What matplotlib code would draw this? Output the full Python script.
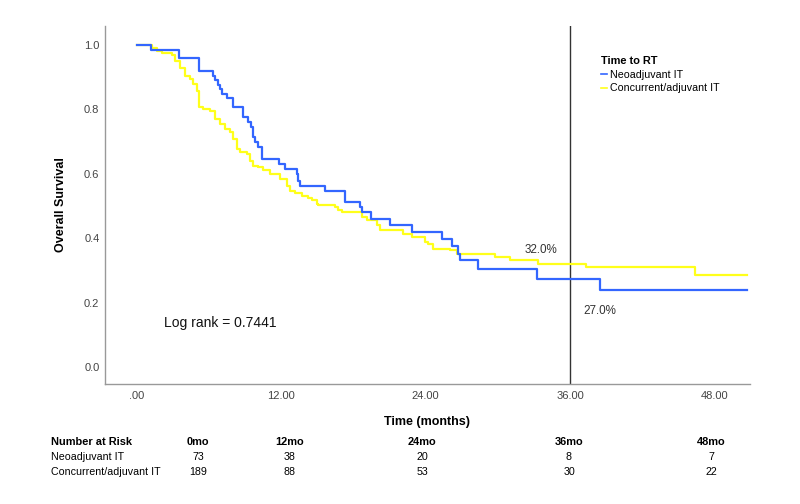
import matplotlib
matplotlib.use('Agg')
import matplotlib.pyplot as plt

plt.rcParams['font.family'] = ['Liberation Sans', 'DejaVu Sans']

# Curva Neoadjuvant IT (tiempo en meses, supervivencia)
neo_t = [0, 1.14, 3.49, 5.15, 6.34, 6.48, 6.76, 6.90, 7.04, 7.51, 8.00, 8.84, 9.20,
         9.45, 9.67, 9.81, 10.08, 10.37, 10.42, 11.78, 12.28, 13.28, 13.41, 13.55,
         15.63, 17.29, 18.54, 18.70, 19.43, 21.03, 22.83, 25.33, 26.16, 26.71, 26.85,
         28.37, 33.23, 38.49, 50.68]
neo_s = [1.0, 0.986, 0.959, 0.918, 0.904, 0.890, 0.877, 0.863, 0.849, 0.836, 0.808,
         0.775, 0.760, 0.744, 0.713, 0.698, 0.682, 0.667, 0.646, 0.631, 0.615, 0.600,
         0.579, 0.563, 0.547, 0.512, 0.496, 0.481, 0.460, 0.440, 0.419, 0.398, 0.377,
         0.352, 0.331, 0.305, 0.274, 0.238, 0.238]

# Curva Concurrent/adjuvant IT
con_t = [0, 1.22, 1.64, 2.05, 2.88, 3.16, 3.57, 3.99, 4.41, 4.68, 4.96, 5.15, 5.51,
         6.07, 6.48, 6.90, 7.32, 7.73, 8.00, 8.29, 8.56, 9.12, 9.39, 9.67, 10.08,
         10.50, 11.06, 11.89, 12.44, 12.72, 13.13, 13.69, 14.24, 14.52, 14.94, 15.07,
         16.46, 16.73, 17.02, 18.68, 19.09, 19.93, 20.20, 22.14, 22.83, 23.94, 24.21,
         24.63, 26.02, 26.58, 29.76, 31.00, 33.36, 37.32, 46.38, 50.68]
con_s = [1.0, 0.992, 0.981, 0.974, 0.969, 0.950, 0.930, 0.904, 0.894, 0.878, 0.858,
         0.806, 0.801, 0.796, 0.770, 0.754, 0.739, 0.729, 0.708, 0.677, 0.667, 0.662,
         0.641, 0.625, 0.620, 0.612, 0.600, 0.584, 0.563, 0.548, 0.540, 0.532, 0.525,
         0.517, 0.507, 0.502, 0.496, 0.486, 0.481, 0.465, 0.457, 0.440, 0.424, 0.414,
         0.403, 0.388, 0.383, 0.367, 0.362, 0.352, 0.341, 0.331, 0.321, 0.310, 0.285,
         0.285]

xticks = [0, 12, 24, 36, 48]
xtick_labels = ['.00', '12.00', '24.00', '36.00', '48.00']

# Tabla de pacientes en riesgo
risk_cols = ['0mo', '12mo', '24mo', '36mo', '48mo']
risk_neo = [73, 38, 20, 8, 7]
risk_con = [189, 88, 53, 30, 22]

fig = plt.figure(figsize=(8, 5.04), dpi=100)
ax = fig.add_axes([105 / 800, 1 - 384 / 504, 645 / 800, 358 / 504])

ax.step(neo_t, neo_s, where='post', color='#3366ff', lw=1.6, label='Neoadjuvant IT', zorder=3)
ax.step(con_t, con_s, where='post', color='#ffff1a', lw=1.6, label='Concurrent/adjuvant IT', zorder=2)

ax.axvline(36, color='#333333', lw=1.0, zorder=1)

ax.set_xlim(-2.66, 50.96)
ax.set_ylim(-0.053, 1.059)
ax.set_xticks(xticks)
ax.set_xticklabels(xtick_labels)
ax.set_yticks([0, 0.2, 0.4, 0.6, 0.8, 1.0])
ax.set_yticklabels(['0.0', '0.2', '0.4', '0.6', '0.8', '1.0'])
ax.tick_params(axis='x', length=0, pad=5, labelsize=8, labelcolor='#444444')
ax.tick_params(axis='y', length=0, pad=4, labelsize=8, labelcolor='#444444')

for side in ['top', 'right']:
    ax.spines[side].set_visible(False)
for side in ['left', 'bottom']:
    ax.spines[side].set_color('#999999')
    ax.spines[side].set_linewidth(1.0)

ax.set_ylabel('Overall Survival', fontsize=9, fontweight='bold')
ax.yaxis.set_label_coords(-0.0594, 0.5)

# Textos dentro del grafico
ax.text(2.24, 0.136, 'Log rank = 0.7441', fontsize=10, va='center', ha='left', color='#111111')
ax.text(33.6, 0.364, '32.0%', fontsize=8.4, va='center', ha='center', color='#333333')
ax.text(38.5, 0.174, '27.0%', fontsize=8.4, va='center', ha='center', color='#333333')

leg = ax.legend(loc='upper left', bbox_to_anchor=(601 / 800, 1 - 56 / 504),
                bbox_transform=fig.transFigure, frameon=False, fontsize=7.7,
                title='Time to RT', title_fontproperties={'weight': 'bold', 'size': 7.9},
                handlelength=0.6, handletextpad=0.25, labelspacing=0.35,
                borderpad=0, borderaxespad=0, alignment='left')
for line in leg.get_lines():
    line.set_linewidth(1.2)

fig.text(427 / 800, 1 - 421.7 / 504, 'Time (months)', fontsize=9, fontweight='bold',
         ha='center', va='center')

# Tabla de riesgo debajo del eje
col_x = [198, 290, 422, 569, 711]
row_y = [442, 457, 472]
fig.text(50.7 / 800, 1 - row_y[0] / 504, 'Number at Risk', fontsize=7.9, fontweight='bold', va='center')
fig.text(50.7 / 800, 1 - row_y[1] / 504, 'Neoadjuvant IT', fontsize=7.7, va='center')
fig.text(50.7 / 800, 1 - row_y[2] / 504, 'Concurrent/adjuvant IT', fontsize=7.7, va='center')
for i in range(len(risk_cols)):
    fig.text(col_x[i] / 800, 1 - row_y[0] / 504, risk_cols[i], fontsize=7.9,
             fontweight='bold', ha='center', va='center')
    fig.text(col_x[i] / 800, 1 - row_y[1] / 504, str(risk_neo[i]), fontsize=7.7,
             ha='center', va='center')
    fig.text(col_x[i] / 800, 1 - row_y[2] / 504, str(risk_con[i]), fontsize=7.7,
             ha='center', va='center')

fig.savefig('out.png', dpi=100)
